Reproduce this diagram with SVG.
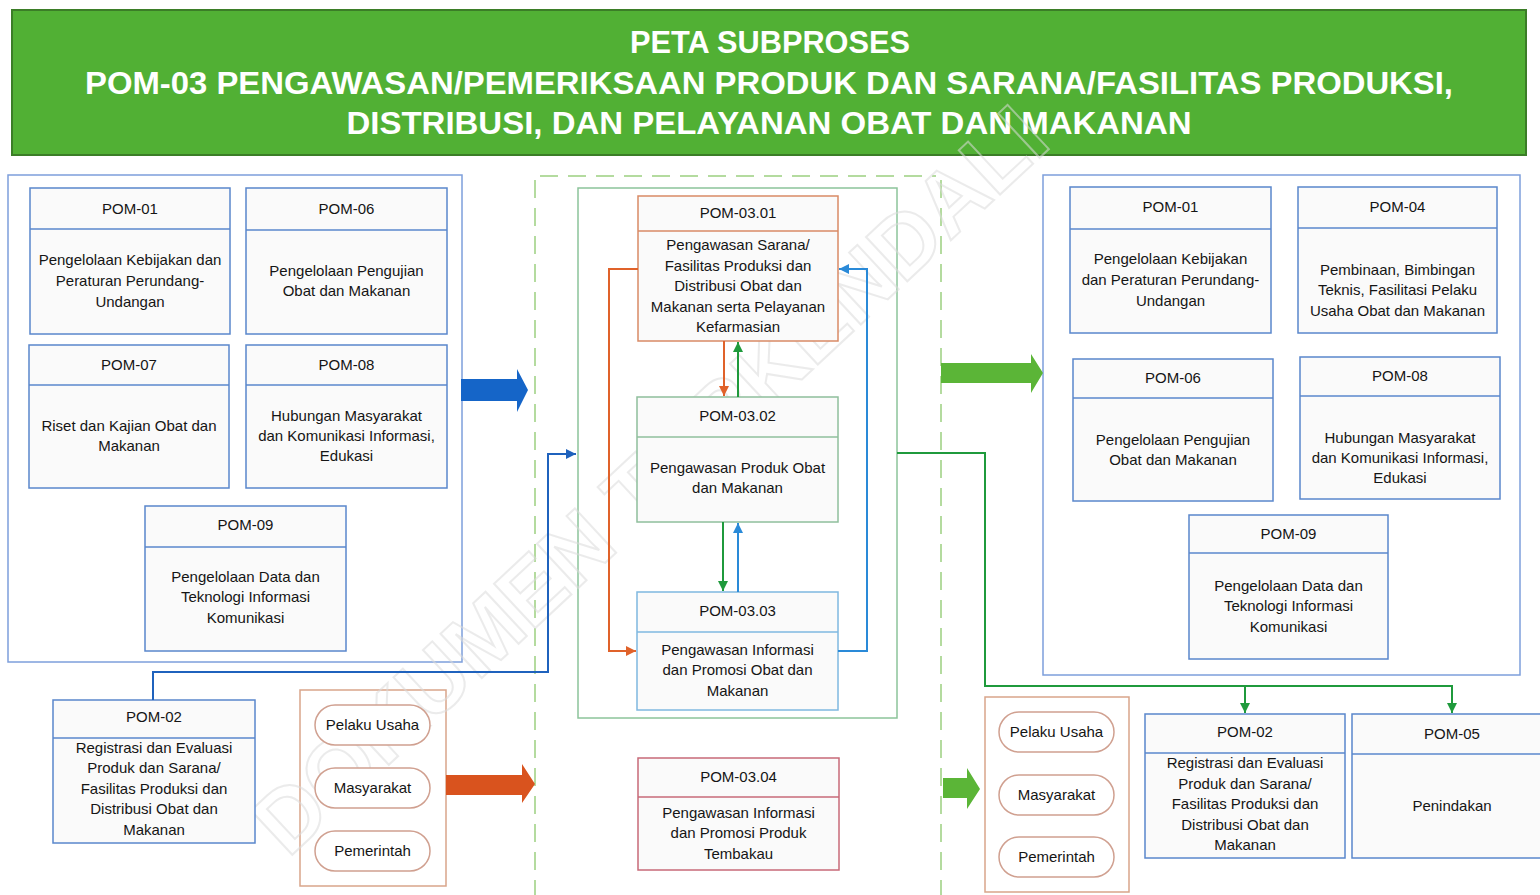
<svg xmlns="http://www.w3.org/2000/svg" width="1540" height="895" viewBox="0 0 1540 895">
<defs>
<style>
.box{fill:#fafafa;stroke:#5a87cc;stroke-width:1.5}
.sep{stroke:#5a87cc;stroke-width:1.5}
.panel{fill:#ffffff;stroke:#7d9fdb;stroke-width:1.5}
.t{font-family:"Liberation Sans",Arial,sans-serif;font-size:15px;fill:#151515;text-anchor:middle}
.h{font-family:"Liberation Sans",Arial,sans-serif;font-weight:bold;font-size:31px;fill:#ffffff;text-anchor:middle}
.pill{fill:#ffffff;stroke:#d0a090;stroke-width:1.5}
.stk{fill:#ffffff;stroke:#d9a58a;stroke-width:1.5}
.c{fill:none;stroke-width:2}
.wm{font-family:"Liberation Sans",Arial,sans-serif;font-weight:bold;font-size:88px;fill:none;stroke:#dcdcdc;stroke-width:2;opacity:0.55}
</style>
<marker id="mBlue" viewBox="0 0 10 10" refX="10" refY="5" markerWidth="10" markerHeight="10" markerUnits="userSpaceOnUse" orient="auto"><path d="M0,0 L10,5 L0,10 z" fill="#1f62bd"/></marker>
<marker id="mLBlue" viewBox="0 0 10 10" refX="10" refY="5" markerWidth="10" markerHeight="10" markerUnits="userSpaceOnUse" orient="auto"><path d="M0,0 L10,5 L0,10 z" fill="#2a8ad8"/></marker>
<marker id="mOr" viewBox="0 0 10 10" refX="10" refY="5" markerWidth="10" markerHeight="10" markerUnits="userSpaceOnUse" orient="auto"><path d="M0,0 L10,5 L0,10 z" fill="#e0622a"/></marker>
<marker id="mGr" viewBox="0 0 10 10" refX="10" refY="5" markerWidth="10" markerHeight="10" markerUnits="userSpaceOnUse" orient="auto"><path d="M0,0 L10,5 L0,10 z" fill="#1f9a3c"/></marker>
</defs>
<rect x="0" y="0" width="1540" height="895" fill="#ffffff"/>

<g id="header">
<rect x="12" y="10" width="1514" height="145" fill="#51b034" stroke="#3b7d27" stroke-width="2"/>
<text class="h" x="770" y="53" textLength="280" lengthAdjust="spacingAndGlyphs">PETA SUBPROSES</text>
<text class="h" x="769" y="94" textLength="1368" lengthAdjust="spacingAndGlyphs">POM-03 PENGAWASAN/PEMERIKSAAN PRODUK DAN SARANA/FASILITAS PRODUKSI,</text>
<text class="h" x="769" y="134" textLength="845" lengthAdjust="spacingAndGlyphs">DISTRIBUSI, DAN PELAYANAN OBAT DAN MAKANAN</text>
</g>

<g id="panels">
<rect class="panel" x="8" y="175" width="454" height="487"/>
<rect class="panel" x="1043" y="175" width="477" height="500"/>
<path d="M540,176 H936 M535,180 V895 M941,180 V895" fill="none" stroke="#9ccf80" stroke-width="1.5" stroke-dasharray="18,10"/>
<rect x="578" y="188" width="319" height="530" fill="none" stroke="#8cc49a" stroke-width="1.5"/>
<rect class="stk" x="300" y="690" width="146" height="196"/>
<rect class="stk" x="985" y="697" width="144" height="195"/>
</g>

<text class="wm" x="650" y="510" text-anchor="middle" transform="rotate(-43 650 480)">DOKUMEN TERKENDALI</text>

<g id="L-POM-01"><rect class="box" x="30" y="188" width="200" height="146"/><line class="sep" x1="30" y1="229" x2="230" y2="229"/>
<text class="t" x="130" y="214">POM-01</text><text class="t" x="130" y="265">Pengelolaan Kebijakan dan</text><text class="t" x="130" y="286">Peraturan Perundang-</text><text class="t" x="130" y="307">Undangan</text></g>
<g id="L-POM-06"><rect class="box" x="246" y="188" width="201" height="146"/><line class="sep" x1="246" y1="230" x2="447" y2="230"/>
<text class="t" x="346.5" y="214">POM-06</text><text class="t" x="346.5" y="276">Pengelolaan Pengujian</text><text class="t" x="346.5" y="296">Obat dan Makanan</text></g>
<g id="L-POM-07"><rect class="box" x="29" y="345" width="200" height="143"/><line class="sep" x1="29" y1="385" x2="229" y2="385"/>
<text class="t" x="129" y="370">POM-07</text><text class="t" x="129" y="431">Riset dan Kajian Obat dan</text><text class="t" x="129" y="451">Makanan</text></g>
<g id="L-POM-08"><rect class="box" x="246" y="345" width="201" height="143"/><line class="sep" x1="246" y1="385" x2="447" y2="385"/>
<text class="t" x="346.5" y="370">POM-08</text><text class="t" x="346.5" y="421">Hubungan Masyarakat</text><text class="t" x="346.5" y="441">dan Komunikasi Informasi,</text><text class="t" x="346.5" y="461">Edukasi</text></g>
<g id="L-POM-09"><rect class="box" x="145" y="506" width="201" height="145"/><line class="sep" x1="145" y1="547" x2="346" y2="547"/>
<text class="t" x="245.5" y="530">POM-09</text><text class="t" x="245.5" y="582">Pengelolaan Data dan</text><text class="t" x="245.5" y="602">Teknologi Informasi</text><text class="t" x="245.5" y="623">Komunikasi</text></g>
<g id="L-POM-02"><rect class="box" x="53" y="700" width="202" height="143"/><line class="sep" x1="53" y1="738" x2="255" y2="738"/>
<text class="t" x="154" y="722">POM-02</text><text class="t" x="154" y="753">Registrasi dan Evaluasi</text><text class="t" x="154" y="773">Produk dan Sarana/</text><text class="t" x="154" y="794">Fasilitas Produksi dan</text><text class="t" x="154" y="814">Distribusi Obat dan</text><text class="t" x="154" y="835">Makanan</text></g>

<g id="L-stakeholders">
<rect class="pill" x="315" y="705" width="115" height="40" rx="20"/><text class="t" x="372.5" y="730">Pelaku Usaha</text>
<rect class="pill" x="315" y="768" width="115" height="40" rx="20"/><text class="t" x="372.5" y="793">Masyarakat</text>
<rect class="pill" x="315" y="831" width="115" height="40" rx="20"/><text class="t" x="372.5" y="856">Pemerintah</text>
</g>

<g id="POM-03.01"><rect class="box" style="stroke:#d98a66" x="638" y="196" width="200" height="145"/><line class="sep" style="stroke:#d98a66" x1="638" y1="231" x2="838" y2="231"/>
<text class="t" x="738" y="218">POM-03.01</text><text class="t" x="738" y="250">Pengawasan Sarana/</text><text class="t" x="738" y="271">Fasilitas Produksi dan</text><text class="t" x="738" y="291">Distribusi Obat dan</text><text class="t" x="738" y="312">Makanan serta Pelayanan</text><text class="t" x="738" y="332">Kefarmasian</text></g>
<g id="POM-03.02"><rect class="box" style="stroke:#8fbf9c" x="637" y="397" width="201" height="125"/><line class="sep" style="stroke:#8fbf9c" x1="637" y1="437" x2="838" y2="437"/>
<text class="t" x="737.5" y="421">POM-03.02</text><text class="t" x="737.5" y="473">Pengawasan Produk Obat</text><text class="t" x="737.5" y="493">dan Makanan</text></g>
<g id="POM-03.03"><rect class="box" style="stroke:#7fb8e0" x="637" y="592" width="201" height="118"/><line class="sep" style="stroke:#7fb8e0" x1="637" y1="632" x2="838" y2="632"/>
<text class="t" x="737.5" y="616">POM-03.03</text><text class="t" x="737.5" y="655">Pengawasan Informasi</text><text class="t" x="737.5" y="675">dan Promosi Obat dan</text><text class="t" x="737.5" y="696">Makanan</text></g>
<g id="POM-03.04"><rect class="box" style="stroke:#c76a78" x="638" y="758" width="201" height="112"/><line class="sep" style="stroke:#c76a78" x1="638" y1="797" x2="839" y2="797"/>
<text class="t" x="738.5" y="782">POM-03.04</text><text class="t" x="738.5" y="818">Pengawasan Informasi</text><text class="t" x="738.5" y="838">dan Promosi Produk</text><text class="t" x="738.5" y="859">Tembakau</text></g>

<g id="R-POM-01"><rect class="box" x="1070" y="187" width="201" height="146"/><line class="sep" x1="1070" y1="229" x2="1271" y2="229"/>
<text class="t" x="1170.5" y="212">POM-01</text><text class="t" x="1170.5" y="264">Pengelolaan Kebijakan</text><text class="t" x="1170.5" y="285">dan Peraturan Perundang-</text><text class="t" x="1170.5" y="306">Undangan</text></g>
<g id="R-POM-04"><rect class="box" x="1298" y="187" width="199" height="146"/><line class="sep" x1="1298" y1="228" x2="1497" y2="228"/>
<text class="t" x="1397.5" y="212">POM-04</text><text class="t" x="1397.5" y="275">Pembinaan, Bimbingan</text><text class="t" x="1397.5" y="295">Teknis, Fasilitasi Pelaku</text><text class="t" x="1397.5" y="316">Usaha Obat dan Makanan</text></g>
<g id="R-POM-06"><rect class="box" x="1073" y="359" width="200" height="142"/><line class="sep" x1="1073" y1="398" x2="1273" y2="398"/>
<text class="t" x="1173" y="383">POM-06</text><text class="t" x="1173" y="445">Pengelolaan Pengujian</text><text class="t" x="1173" y="465">Obat dan Makanan</text></g>
<g id="R-POM-08"><rect class="box" x="1300" y="357" width="200" height="142"/><line class="sep" x1="1300" y1="396" x2="1500" y2="396"/>
<text class="t" x="1400" y="381">POM-08</text><text class="t" x="1400" y="443">Hubungan Masyarakat</text><text class="t" x="1400" y="463">dan Komunikasi Informasi,</text><text class="t" x="1400" y="483">Edukasi</text></g>
<g id="R-POM-09"><rect class="box" x="1189" y="515" width="199" height="144"/><line class="sep" x1="1189" y1="553" x2="1388" y2="553"/>
<text class="t" x="1288.5" y="539">POM-09</text><text class="t" x="1288.5" y="591">Pengelolaan Data dan</text><text class="t" x="1288.5" y="611">Teknologi Informasi</text><text class="t" x="1288.5" y="632">Komunikasi</text></g>
<g id="R-POM-02"><rect class="box" x="1145" y="714" width="200" height="144"/><line class="sep" x1="1145" y1="753" x2="1345" y2="753"/>
<text class="t" x="1245" y="737">POM-02</text><text class="t" x="1245" y="768">Registrasi dan Evaluasi</text><text class="t" x="1245" y="789">Produk dan Sarana/</text><text class="t" x="1245" y="809">Fasilitas Produksi dan</text><text class="t" x="1245" y="830">Distribusi Obat dan</text><text class="t" x="1245" y="850">Makanan</text></g>
<g id="R-POM-05"><rect class="box" x="1352" y="714" width="195" height="144"/><line class="sep" x1="1352" y1="754" x2="1547" y2="754"/>
<text class="t" x="1452" y="739">POM-05</text><text class="t" x="1452" y="811">Penindakan</text></g>

<g id="R-stakeholders">
<rect class="pill" x="999" y="712" width="115" height="40" rx="20"/><text class="t" x="1056.5" y="737">Pelaku Usaha</text>
<rect class="pill" x="999" y="775" width="115" height="40" rx="20"/><text class="t" x="1056.5" y="800">Masyarakat</text>
<rect class="pill" x="999" y="837" width="115" height="40" rx="20"/><text class="t" x="1056.5" y="862">Pemerintah</text>
</g>

<g id="connectors">
<polygon points="461,379 517,379 517,369 528,390 517,412 517,401 461,401" fill="#1565c8"/>
<polygon points="446,775 522,775 522,764 535,784 522,803 522,795 446,795" fill="#d9531e"/>
<polygon points="941,363 1031,363 1031,354 1043,373 1031,393 1031,383 941,383" fill="#5bb537"/>
<polygon points="943,778 967,778 967,768 980,789 967,809 967,798 943,798" fill="#5bb537"/>
<polyline class="c" points="153,700 153,672 548,672 548,454 576,454" stroke="#1f62bd" marker-end="url(#mBlue)"/>
<polyline class="c" points="638,269 609,269 609,651 636,651" stroke="#e0622a" marker-end="url(#mOr)"/>
<polyline class="c" points="838,651 867,651 867,269 839,269" stroke="#2a8ad8" marker-end="url(#mLBlue)"/>
<line class="c" x1="724" y1="341" x2="724" y2="396" stroke="#e0622a" marker-end="url(#mOr)"/>
<line class="c" x1="738" y1="397" x2="738" y2="342" stroke="#1f9a3c" marker-end="url(#mGr)"/>
<line class="c" x1="723" y1="522" x2="723" y2="591" stroke="#1f9a3c" marker-end="url(#mGr)"/>
<line class="c" x1="738" y1="592" x2="738" y2="523" stroke="#2a8ad8" marker-end="url(#mLBlue)"/>
<polyline class="c" points="897,453 985,453 985,686 1452,686 1452,713" stroke="#1f9a3c" marker-end="url(#mGr)"/>
<line class="c" x1="1245" y1="686" x2="1245" y2="713" stroke="#1f9a3c" marker-end="url(#mGr)"/>
</g>
</svg>
